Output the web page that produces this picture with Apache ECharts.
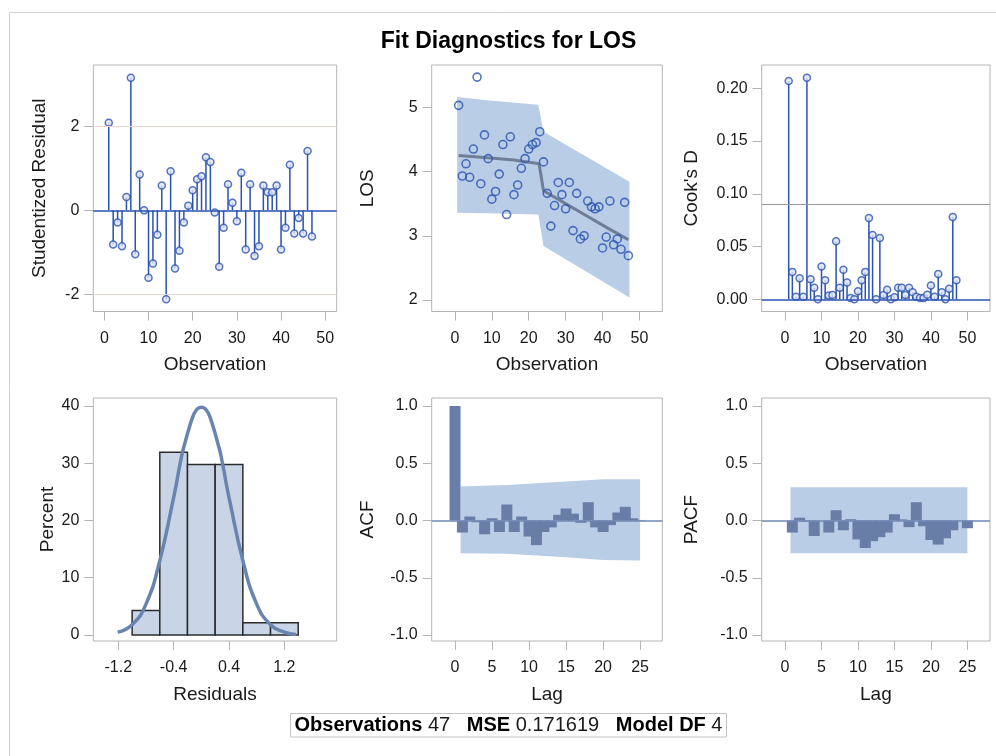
<!DOCTYPE html>
<html>
<head>
<meta charset="utf-8">
<title>Fit Diagnostics for LOS</title>
<script src="https://cdn.jsdelivr.net/npm/echarts@6.0.0/dist/echarts.min.js"></script>
<style>
  html, body { margin: 0; padding: 0; background: #fff; }
  #fd-chart { width: 996px; height: 756px; }
</style>
</head>
<body>
<div id="fd-chart"></div>
<script>
// observation numbers
var obsNo = [1, 2, 3, 4, 5, 6, 7, 8, 9, 10, 11, 12, 13, 14, 15, 16, 17, 18, 19, 20,
  21, 22, 23, 24, 25, 26, 27, 28, 29, 30, 31, 32, 33, 34, 35, 36, 37, 38, 39, 40,
  41, 42, 43, 44, 45, 46, 47];

var studResid = [2.08, -0.81, -0.29, -0.85, 0.32, 3.15, -1.04, 0.85, 0.00, -1.60,
  -1.26, -0.58, 0.59, -2.11, 0.93, -1.38, -0.96, -0.29, 0.11, 0.48,
  0.74, 0.81, 1.26, 1.15, -0.05, -1.34, -0.41, 0.62, 0.18, -0.26,
  0.89, -0.93, 0.62, -1.08, -0.85, 0.59, 0.43, 0.43, 0.59, -0.93,
  -0.41, 1.08, -0.55, -0.18, -0.55, 1.41, -0.62];

var losValues = [5.03, 3.93, 4.12, 3.91, 4.35, 5.47, 3.81, 4.57, 4.20, 3.57,
  3.69, 3.96, 4.42, 3.33, 4.54, 3.64, 3.79, 4.05, 4.20, 4.35,
  4.42, 4.45, 4.62, 4.15, 3.66, 3.15, 3.47, 3.83, 3.64, 3.42,
  3.83, 3.08, 3.66, 2.95, 3.00, 3.54, 3.45, 3.42, 3.45, 2.81,
  2.98, 3.54, 2.86, 2.95, 2.79, 3.52, 2.69];

// fitted line and prediction band (read at a few observations)
var fitObs = [1, 8, 16, 22.8, 24, 30, 36, 42, 47];
var fitLos = [4.25, 4.22, 4.18, 4.12, 3.70, 3.50, 3.30, 3.10, 2.94];
var bandObs = [0.6, 8.6, 22.6, 24.0, 47.3];
var bandHi = [5.16, 5.11, 5.04, 4.62, 3.84];
var bandLo = [3.36, 3.35, 3.33, 2.84, 2.04];

var cooksD = [0.207, 0.026, 0.0025, 0.020, 0.0025, 0.210, 0.019, 0.011, 0.000, 0.031,
  0.018, 0.0035, 0.004, 0.055, 0.011, 0.028, 0.016, 0.0013, 0.000, 0.0076,
  0.018, 0.026, 0.077, 0.061, 0.000, 0.058, 0.004, 0.009, 0.000, 0.002,
  0.011, 0.011, 0.004, 0.011, 0.0066, 0.0025, 0.0013, 0.0013, 0.0044, 0.013,
  0.0025, 0.024, 0.0066, 0.000, 0.010, 0.078, 0.018];
var cooksCut = 0.0851;

// residual histogram (percent) and normal density curve
var histLo = [-1.0, -0.6, -0.2, 0.2, 0.6, 1.0];
var histHi = [-0.6, -0.2, 0.2, 0.6, 1.0, 1.4];
var histPct = [4.26, 31.91, 29.79, 29.79, 2.13, 2.13];
var curveX = [-1.21, -1.0, -0.8, -0.6, -0.4, -0.2, 0.0, 0.2, 0.4, 0.6, 0.8, 1.0, 1.2, 1.37];
var curveY = [0.5, 1.8, 5.4, 13.0, 24.0, 35.2, 39.8, 35.2, 24.0, 13.0, 5.4, 1.8, 0.5, 0.1];

var acfLag = [0, 1, 2, 3, 4, 5, 6, 7, 8, 9, 10, 11, 12, 13, 14, 15, 16, 17, 18, 19, 20, 21, 22, 23, 24, 25];
var acfValue = [1.0, -0.105, 0.035, -0.015, -0.12, 0.02, -0.10, 0.14, -0.10, 0.035,
  -0.14, -0.215, -0.10, -0.06, 0.05, 0.105, 0.06, -0.02, 0.16, -0.06,
  -0.10, -0.04, 0.07, 0.12, 0.02, 0.005];
var acfBandLag = [0.75, 7, 15, 20, 25];
var acfBandHi = [0.297, 0.31, 0.34, 0.36, 0.361];
var acfBandLo = [-0.285, -0.29, -0.32, -0.344, -0.349];

var pacfLag = [1, 2, 3, 4, 5, 6, 7, 8, 9, 10, 11, 12, 13, 14, 15, 16, 17, 18, 19, 20, 21, 22, 23, 24, 25];
var pacfValue = [-0.105, 0.025, -0.01, -0.135, 0.0, -0.105, 0.09, -0.085, 0.012, -0.165,
  -0.24, -0.18, -0.145, -0.105, 0.055, 0.01, -0.058, 0.16, -0.05, -0.17,
  -0.21, -0.155, -0.085, 0.0, -0.067];
var pacfBandLag = [0.75, 25];
var pacfBandHi = [0.29, 0.29];
var pacfBandLo = [-0.285, -0.285];

var obsTicks = [0, 10, 20, 30, 40, 50];
var lagTicks = [0, 5, 10, 15, 20, 25];

var FONT = '"Liberation Sans", Arial, sans-serif';
var TEXT = '#1a1a1a';
var FRAME = '#b4b4b4';
var BLUE = '#2a52b0';
var BAND = '#b9cde7';
var BAR = '#687ea6';

function pairs(xs, ys) {
  return xs.map(function (x, i) { return [x, ys[i]]; });
}

function axis(gi, min, max, ticks, name, gap, margin, fmt) {
  return {
    type: 'value', gridIndex: gi, min: min, max: max,
    name: name, nameLocation: 'middle', nameGap: gap,
    nameTextStyle: { fontFamily: FONT, fontSize: 19, color: TEXT },
    axisLine: { show: false, onZero: false },
    axisTick: { show: true, length: 9, customValues: ticks, lineStyle: { color: FRAME } },
    axisLabel: {
      customValues: ticks, fontFamily: FONT, fontSize: 16, color: TEXT, margin: margin,
      formatter: fmt || function (v) { return String(v); }
    },
    splitLine: { show: false }
  };
}

function bandSeries(gi, xs, hi, lo) {
  return {
    type: 'custom', xAxisIndex: gi, yAxisIndex: gi, silent: true, z: 1,
    data: [[xs[0], hi[0]]],
    renderItem: function (params, api) {
      var pts = [];
      for (var i = 0; i < xs.length; i++) pts.push(api.coord([xs[i], hi[i]]));
      for (var j = xs.length - 1; j >= 0; j--) pts.push(api.coord([xs[j], lo[j]]));
      return { type: 'polygon', shape: { points: pts }, style: { fill: BAND } };
    }
  };
}

function refLines(list) {
  return {
    symbol: 'none', silent: true, animation: false,
    label: { show: false },
    data: list.map(function (r) {
      return { yAxis: r[0], lineStyle: { color: r[1], width: r[2], type: 'solid' } };
    })
  };
}

var fix1 = function (v) { return v.toFixed(1); };
var fix2 = function (v) { return v.toFixed(2); };

var myChart = echarts.init(document.getElementById('fd-chart'));
var gridBase = { show: true, borderColor: FRAME, borderWidth: 1, backgroundColor: '#fff', containLabel: false };

var option = {
  animation: false,
  textStyle: { fontFamily: FONT },
  grid: [
    Object.assign({ left: 93.3, top: 65, width: 243.4, height: 246.5 }, gridBase),
    Object.assign({ left: 431.7, top: 65, width: 230.6, height: 246.5 }, gridBase),
    Object.assign({ left: 761.7, top: 65, width: 228.3, height: 246.5 }, gridBase),
    Object.assign({ left: 93.3, top: 398, width: 243.4, height: 243 }, gridBase),
    Object.assign({ left: 431.7, top: 398, width: 230.6, height: 243 }, gridBase),
    Object.assign({ left: 761.7, top: 398, width: 228.3, height: 243 }, gridBase)
  ],
  xAxis: [
    axis(0, -2.5, 52.6, obsTicks, 'Observation', 44, 19),
    axis(1, -6.3, 56.2, obsTicks, 'Observation', 44, 19),
    axis(2, -6.4, 56.2, obsTicks, 'Observation', 44, 19),
    axis(3, -1.561, 1.956, [-1.2, -0.4, 0.4, 1.2], 'Residuals', 44, 19, fix1),
    axis(4, -3.15, 28.0, lagTicks, 'Lag', 44, 19),
    axis(5, -3.2, 28.1, lagTicks, 'Lag', 44, 19)
  ],
  yAxis: [
    axis(0, -2.40, 3.45, [-2, 0, 2], 'Studentized Residual', 44, 14),
    axis(1, 1.821, 5.658, [2, 3, 4, 5], 'LOS', 54, 14),
    axis(2, -0.01156, 0.2221, [0, 0.05, 0.10, 0.15, 0.20], "Cook's D", 60, 14, fix2),
    axis(3, -1.05, 41.4, [0, 10, 20, 30, 40], 'Percent', 22, 14),
    axis(4, -1.052, 1.070, [-1, -0.5, 0, 0.5, 1], 'ACF', 54, 14, fix1),
    axis(5, -1.052, 1.070, [-1, -0.5, 0, 0.5, 1], 'PACF', 60, 14, fix1)
  ],
  graphic: [
    { type: 'rect', silent: true, shape: { x: 9.5, y: 12.5, width: 1100, height: 1000 },
      style: { fill: 'none', stroke: '#d2d2d2', lineWidth: 1 } },
    { type: 'text', silent: true, x: 508.5, y: 42,
      style: { text: 'Fit Diagnostics for LOS', fill: '#000', font: 'bold 23px ' + FONT,
        align: 'center', verticalAlign: 'middle' } },
    { type: 'rect', silent: true, shape: { x: 290.5, y: 713.5, width: 436, height: 23.5 },
      style: { fill: '#fff', stroke: '#c4c4c4', lineWidth: 1 } },
    { type: 'text', silent: true, x: 508.5, y: 725.5,
      style: {
        text: '{b|Observations} 47   {b|MSE} 0.171619   {b|Model DF} 4',
        fill: TEXT, font: '20px ' + FONT, align: 'center', verticalAlign: 'middle',
        rich: { b: { fontWeight: 'bold', fontSize: 20, fontFamily: FONT, fill: '#000' } }
      } }
  ],
  series: [
    // studentized residuals
    {
      type: 'bar', xAxisIndex: 0, yAxisIndex: 0, barWidth: 1.5, silent: true,
      itemStyle: { color: BLUE },
      data: pairs(obsNo, studResid),
      markLine: refLines([[0, BLUE, 1.5], [2, '#ecd8d0', 1.2], [-2, '#ecd8d0', 1.2]])
    },
    {
      type: 'scatter', xAxisIndex: 0, yAxisIndex: 0, symbol: 'circle', symbolSize: 7, silent: true,
      itemStyle: { color: '#dde4f3', borderColor: BLUE, borderWidth: 1.5 },
      data: pairs(obsNo, studResid)
    },
    // LOS by observation
    bandSeries(1, bandObs, bandHi, bandLo),
    {
      type: 'line', xAxisIndex: 1, yAxisIndex: 1, showSymbol: false, silent: true, z: 2,
      lineStyle: { color: '#6f7d96', width: 3 },
      data: pairs(fitObs, fitLos)
    },
    {
      type: 'scatter', xAxisIndex: 1, yAxisIndex: 1, symbol: 'circle', symbolSize: 8, silent: true, z: 3,
      itemStyle: { color: 'rgba(255,255,255,0)', borderColor: BLUE, borderWidth: 1.6 },
      data: pairs(obsNo, losValues)
    },
    // Cook's D
    {
      type: 'bar', xAxisIndex: 2, yAxisIndex: 2, barWidth: 1.5, silent: true,
      itemStyle: { color: BLUE },
      data: pairs(obsNo, cooksD),
      markLine: refLines([[0, BLUE, 1.5], [cooksCut, '#9a9a9a', 1.2]])
    },
    {
      type: 'scatter', xAxisIndex: 2, yAxisIndex: 2, symbol: 'circle', symbolSize: 7, silent: true,
      itemStyle: { color: '#dde4f3', borderColor: BLUE, borderWidth: 1.5 },
      data: pairs(obsNo, cooksD)
    },
    // residual histogram
    {
      type: 'custom', xAxisIndex: 3, yAxisIndex: 3, silent: true,
      data: histLo.map(function (lo, i) { return [lo, histHi[i], histPct[i]]; }),
      encode: { x: [0, 1], y: 2 },
      renderItem: function (params, api) {
        var a = api.coord([api.value(0), api.value(2)]);
        var b = api.coord([api.value(1), 0]);
        return {
          type: 'rect',
          shape: { x: a[0], y: a[1], width: b[0] - a[0], height: b[1] - a[1] },
          style: { fill: '#c9d5e6', stroke: '#2b2b2b', lineWidth: 1.5 }
        };
      }
    },
    {
      type: 'line', xAxisIndex: 3, yAxisIndex: 3, smooth: true, showSymbol: false, silent: true, z: 3,
      lineStyle: { color: '#6984ae', width: 3.5 },
      data: pairs(curveX, curveY)
    },
    // ACF
    bandSeries(4, acfBandLag, acfBandHi, acfBandLo),
    {
      type: 'bar', xAxisIndex: 4, yAxisIndex: 4, barWidth: 11, silent: true, z: 2,
      itemStyle: { color: BAR },
      data: pairs(acfLag, acfValue),
      markLine: refLines([[0, '#7189b3', 1.5]])
    },
    // PACF
    bandSeries(5, pacfBandLag, pacfBandHi, pacfBandLo),
    {
      type: 'bar', xAxisIndex: 5, yAxisIndex: 5, barWidth: 11, silent: true, z: 2,
      itemStyle: { color: BAR },
      data: pairs(pacfLag, pacfValue),
      markLine: refLines([[0, '#7189b3', 1.5]])
    }
  ]
};
myChart.setOption(option);
</script>
</body>
</html>
